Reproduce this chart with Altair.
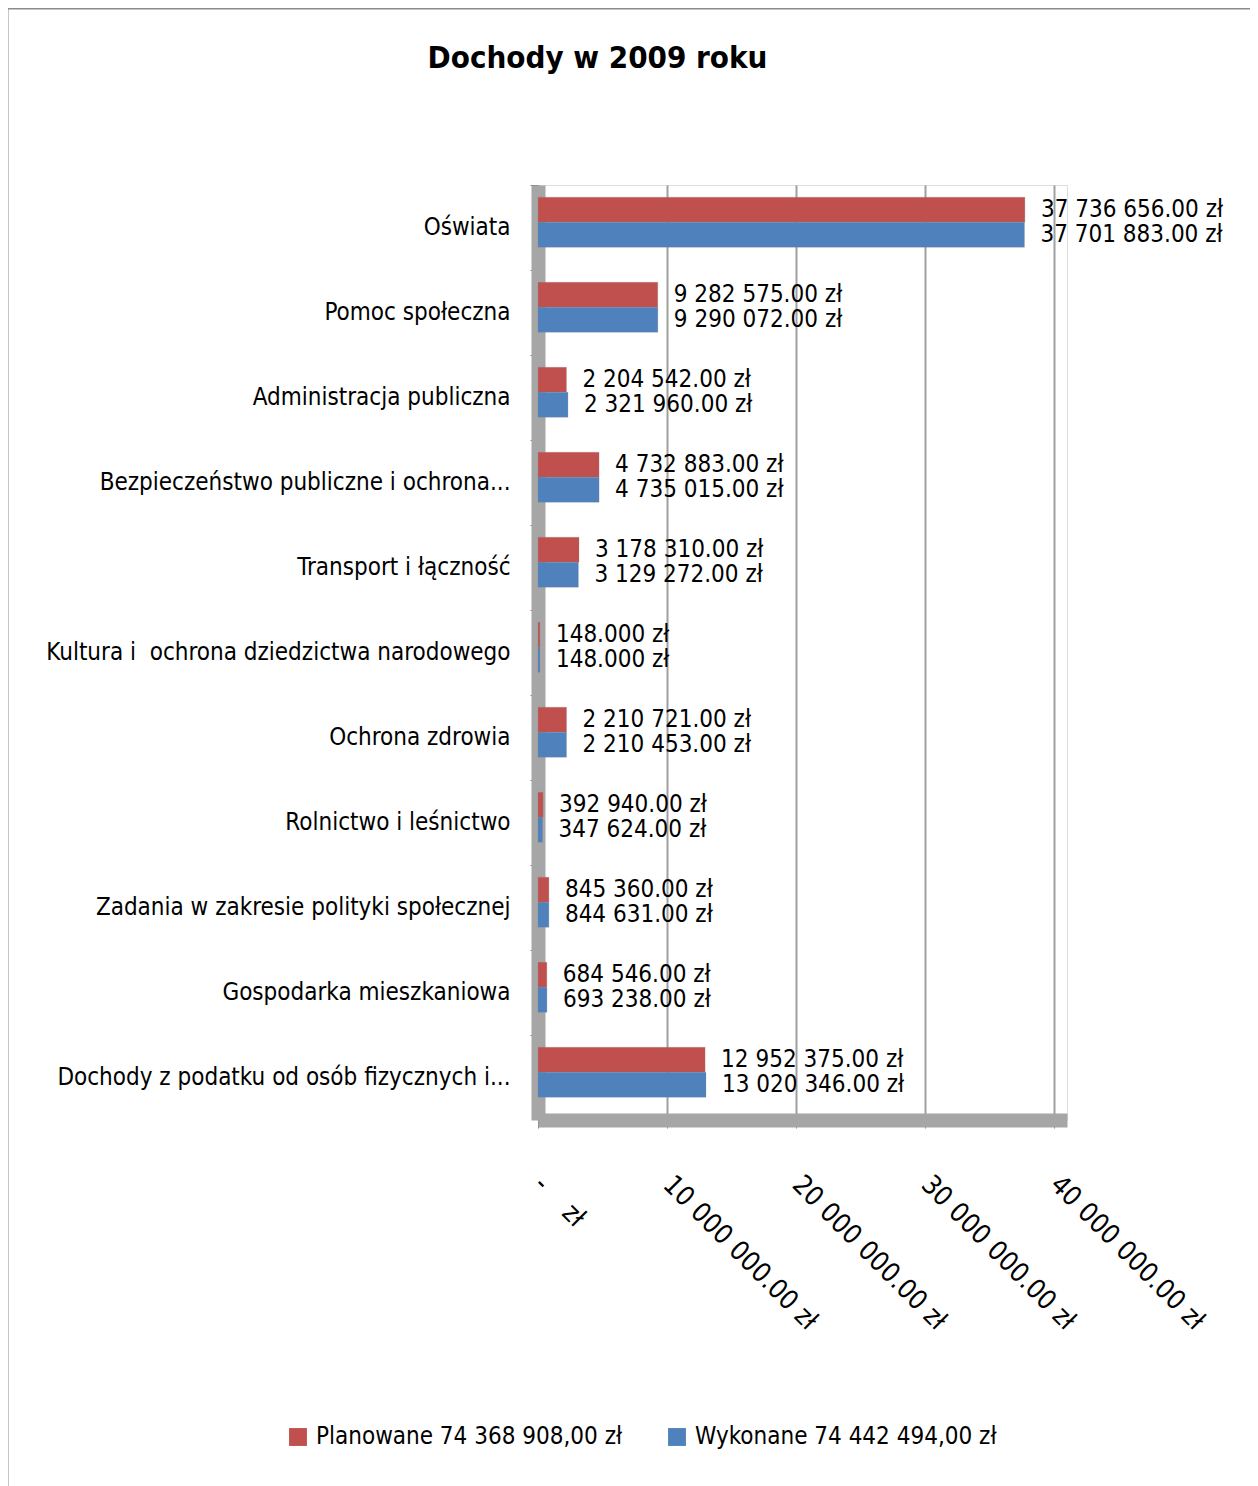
import altair as alt
import pandas as pd

categories = [
    "Oświata",
    "Pomoc społeczna",
    "Administracja publiczna",
    "Bezpieczeństwo publiczne i ochrona...",
    "Transport i łączność",
    "Kultura i\u00a0 ochrona dziedzictwa narodowego",
    "Ochrona zdrowia",
    "Rolnictwo i leśnictwo",
    "Zadania w zakresie polityki społecznej",
    "Gospodarka mieszkaniowa",
    "Dochody z podatku od osób fizycznych i...",
]
planowane = [37736656, 9282575, 2204542, 4732883, 3178310, 148000,
             2210721, 392940, 845360, 684546, 12952375]
wykonane = [37701883, 9290072, 2321960, 4735015, 3129272, 148000,
            2210453, 347624, 844631, 693238, 13020346]
planowane_labels = ["37 736 656.00 zł", "9 282 575.00 zł", "2 204 542.00 zł",
                    "4 732 883.00 zł", "3 178 310.00 zł", "148.000 zł",
                    "2 210 721.00 zł", "392 940.00 zł", "845 360.00 zł",
                    "684 546.00 zł", "12 952 375.00 zł"]
wykonane_labels = ["37 701 883.00 zł", "9 290 072.00 zł", "2 321 960.00 zł",
                   "4 735 015.00 zł", "3 129 272.00 zł", "148.000 zł",
                   "2 210 453.00 zł", "347 624.00 zł", "844 631.00 zł",
                   "693 238.00 zł", "13 020 346.00 zł"]
series = ["Planowane 74 368 908,00 zł", "Wykonane 74 442 494,00 zł"]
colors = ["#C0504D", "#4F81BD"]
tick_values = [0, 10000000, 20000000, 30000000, 40000000]
tick_labels = ["-\u00a0\u00a0\u00a0 zł", "10 000 000.00 zł", "20 000 000.00 zł",
               "30 000 000.00 zł", "40 000 000.00 zł"]

rows = []
for i, c in enumerate(categories):
    rows.append({"category": c, "series": series[0], "value": planowane[i], "label": planowane_labels[i]})
    rows.append({"category": c, "series": series[1], "value": wykonane[i], "label": wykonane_labels[i]})
df = pd.DataFrame(rows)

label_expr = ""
for v, t in zip(tick_values, tick_labels):
    label_expr += f"datum.value == {v} ? '{t}' : "
label_expr += "''"

FONT = "Liberation Sans Narrow, DejaVu Sans Condensed, sans-serif"

y_enc = alt.Y(
    "category:N", sort=categories, title=None,
    scale=alt.Scale(paddingInner=0, paddingOuter=0),
    axis=alt.Axis(labelFontSize=24, labelFont=FONT, labelColor="black",
                  labelPadding=20, tickSize=8, tickColor="#808080",
                  bandPosition=0, domainColor="#a6a6a6", domainWidth=14,
                  labelLimit=600, zindex=0),
)
yoff_enc = alt.YOffset("series:N", sort=series,
                       scale=alt.Scale(paddingInner=0, paddingOuter=0.7, align=0.35))
x_enc = alt.X(
    "value:Q", title=None,
    scale=alt.Scale(domain=[0, 41000000], nice=False),
    axis=alt.Axis(values=tick_values, labelExpr=label_expr, labelAngle=45,
                  labelAlign="left", labelBaseline="middle", labelPadding=52,
                  labelFontSize=27, labelFont=FONT, labelColor="black",
                  labelLimit=0, labelOverlap=False, tickSize=8, tickColor="#808080",
                  grid=True, gridColor="#a0a0a0", gridWidth=2,
                  domainColor="#a6a6a6", domainWidth=14, zindex=0),
)

bars = alt.Chart(df).mark_bar(stroke="#8a8a8a", strokeWidth=0.5, strokeOpacity=0.5).encode(
    y=y_enc,
    yOffset=yoff_enc,
    x=x_enc,
    color=alt.Color("series:N", sort=series,
                    scale=alt.Scale(domain=series, range=colors),
                    legend=alt.Legend(title=None, orient="none", legendX=-252, legendY=1240,
                                      direction="horizontal", symbolType="square",
                                      symbolSize=320, symbolStrokeWidth=0,
                                      labelFontSize=24, labelFont=FONT, labelColor="black",
                                      labelLimit=0, columnPadding=42, labelOffset=6)),
)

texts = alt.Chart(df).mark_text(align="left", baseline="middle", dx=16,
                                fontSize=24, font=FONT, color="black").encode(
    y=alt.Y("category:N", sort=categories),
    yOffset=alt.YOffset("series:N", sort=series),
    x=alt.X("value:Q"),
    text="label:N",
)

frame = alt.Chart(pd.DataFrame({"f": [0]})).mark_rect(
    fill=None, stroke="#8c8c8c", strokeWidth=3, clip=False
).encode(x=alt.value(-531), x2=alt.value(730), y=alt.value(-177), y2=alt.value(1310))

chart = alt.layer(frame, bars, texts).properties(
    width=529, height=935,
    title=alt.TitleParams("Dochody w 2009 roku", fontSize=31, fontWeight="bold",
                          font=FONT, anchor="middle", dx=-205, offset=-92,
                          baseline="alphabetic", color="black"),
    autosize=alt.AutoSizeParams(type="none"),
    padding={"left": 530, "top": 177, "right": 183, "bottom": 366},
).configure_view(fill="#d9d9d9", stroke="#bfbfbf").configure(background="white")

chart.save("out.html", embed_options={"renderer": "svg", "actions": False})
